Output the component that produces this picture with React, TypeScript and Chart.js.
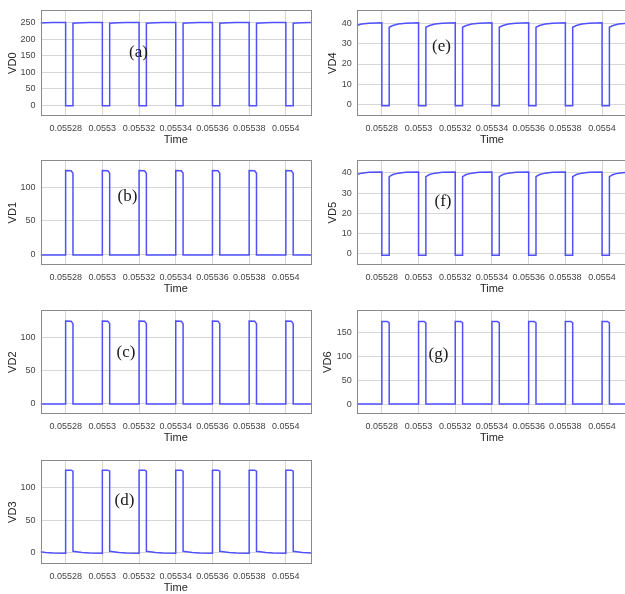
import { useEffect, useRef } from "react";
import { Chart, registerables } from "chart.js";
Chart.register(...registerables);

// Shared sample times (s)
const time = [
  0.0552663, 0.055269, 0.055273,
  0.05528, 0.05528, 0.055283, 0.055284, 0.055284, 0.055286, 0.055289, 0.055293,
  0.0553, 0.0553, 0.055303, 0.055304, 0.055304, 0.055306, 0.055309, 0.055313,
  0.05532, 0.05532, 0.055323, 0.055324, 0.055324, 0.055326, 0.055329, 0.055333,
  0.05534, 0.05534, 0.055343, 0.055344, 0.055344, 0.055346, 0.055349, 0.055353,
  0.05536, 0.05536, 0.055363, 0.055364, 0.055364, 0.055366, 0.055369, 0.055373,
  0.05538, 0.05538, 0.055383, 0.055384, 0.055384, 0.055386, 0.055389, 0.055393,
  0.0554, 0.0554, 0.055403, 0.055404, 0.055404, 0.055406, 0.055409, 0.0554137,
];

const vd0 = [
  250, 250.5, 251,
  251, -1, -1, -1, 249, 250, 250.5, 251,
  251, -1, -1, -1, 249, 250, 250.5, 251,
  251, -1, -1, -1, 249, 250, 250.5, 251,
  251, -1, -1, -1, 249, 250, 250.5, 251,
  251, -1, -1, -1, 249, 250, 250.5, 251,
  251, -1, -1, -1, 249, 250, 250.5, 251,
  251, -1, -1, -1, 249, 250, 250.5, 251,
];

const vd1 = [
  -0.5, -0.5, -0.5,
  -0.5, 125, 124.5, 121, -0.5, -0.5, -0.5, -0.5,
  -0.5, 125, 124.5, 121, -0.5, -0.5, -0.5, -0.5,
  -0.5, 125, 124.5, 121, -0.5, -0.5, -0.5, -0.5,
  -0.5, 125, 124.5, 121, -0.5, -0.5, -0.5, -0.5,
  -0.5, 125, 124.5, 121, -0.5, -0.5, -0.5, -0.5,
  -0.5, 125, 124.5, 121, -0.5, -0.5, -0.5, -0.5,
  -0.5, 125, 124.5, 121, -0.5, -0.5, -0.5, -0.5,
];

const vd2 = [
  -0.5, -0.5, -0.5,
  -0.5, 125, 124.5, 121, -0.5, -0.5, -0.5, -0.5,
  -0.5, 125, 124.5, 121, -0.5, -0.5, -0.5, -0.5,
  -0.5, 125, 124.5, 121, -0.5, -0.5, -0.5, -0.5,
  -0.5, 125, 124.5, 121, -0.5, -0.5, -0.5, -0.5,
  -0.5, 125, 124.5, 121, -0.5, -0.5, -0.5, -0.5,
  -0.5, 125, 124.5, 121, -0.5, -0.5, -0.5, -0.5,
  -0.5, 125, 124.5, 121, -0.5, -0.5, -0.5, -0.5,
];

const vd3 = [
  1.7, 0.5, -0.3,
  -0.5, 127, 127, 125.5, 2.5, 1.8, 0.5, -0.3,
  -0.5, 127, 127, 125.5, 2.5, 1.8, 0.5, -0.3,
  -0.5, 127, 127, 125.5, 2.5, 1.8, 0.5, -0.3,
  -0.5, 127, 127, 125.5, 2.5, 1.8, 0.5, -0.3,
  -0.5, 127, 127, 125.5, 2.5, 1.8, 0.5, -0.3,
  -0.5, 127, 127, 125.5, 2.5, 1.8, 0.5, -0.3,
  -0.5, 127, 127, 125.5, 2.5, 1.8, 0.5, -0.3,
];

const vd4 = [
  39.2, 39.9, 40.3,
  40.5, -0.8, -0.8, -0.8, 38.3, 39.2, 39.9, 40.3,
  40.5, -0.8, -0.8, -0.8, 38.3, 39.2, 39.9, 40.3,
  40.5, -0.8, -0.8, -0.8, 38.3, 39.2, 39.9, 40.3,
  40.5, -0.8, -0.8, -0.8, 38.3, 39.2, 39.9, 40.3,
  40.5, -0.8, -0.8, -0.8, 38.3, 39.2, 39.9, 40.3,
  40.5, -0.8, -0.8, -0.8, 38.3, 39.2, 39.9, 40.3,
  40.5, -0.8, -0.8, -0.8, 38.3, 39.2, 39.9, 40.3,
];

const vd5 = [
  39.2, 39.9, 40.3,
  40.5, -0.7, -0.7, -0.7, 38.2, 39.2, 39.9, 40.3,
  40.5, -0.7, -0.7, -0.7, 38.2, 39.2, 39.9, 40.3,
  40.5, -0.7, -0.7, -0.7, 38.2, 39.2, 39.9, 40.3,
  40.5, -0.7, -0.7, -0.7, 38.2, 39.2, 39.9, 40.3,
  40.5, -0.7, -0.7, -0.7, 38.2, 39.2, 39.9, 40.3,
  40.5, -0.7, -0.7, -0.7, 38.2, 39.2, 39.9, 40.3,
  40.5, -0.7, -0.7, -0.7, 38.2, 39.2, 39.9, 40.3,
];

const vd6 = [
  0, 0, 0,
  0, 172, 172, 169, 0, 0, 0, 0,
  0, 172, 172, 169, 0, 0, 0, 0,
  0, 172, 172, 169, 0, 0, 0, 0,
  0, 172, 172, 169, 0, 0, 0, 0,
  0, 172, 172, 169, 0, 0, 0, 0,
  0, 172, 172, 169, 0, 0, 0, 0,
  0, 172, 172, 169, 0, 0, 0, 0,
];

const xMin = 0.0552663;
const xMax = 0.0554137;
const xTickValues = [0.05528, 0.0553, 0.05532, 0.05534, 0.05536, 0.05538, 0.0554];
const xTickLabels = ["0.05528", "0.0553", "0.05532", "0.05534", "0.05536", "0.05538", "0.0554"];
const yTicks250 = [0, 50, 100, 150, 200, 250];
const yTicks100 = [0, 50, 100];
const yTicks150 = [0, 50, 100, 150];
const yTicks40 = [0, 10, 20, 30, 40];

type Panel = {
  name: string;
  values: number[];
  yMin: number;
  yMax: number;
  yTicks: number[];
  note: string;
  left: number;
  top: number;
  width: number;
  plotLeft: number;
  plotRight: number;
  plotTop: number;
  plotBottom: number;
  titlePad: number;
  noteX: number;
  noteY: number;
};

const panels: Panel[] = [
  { name: "VD0", values: vd0, yMin: -32, yMax: 288, yTicks: yTicks250, note: "(a)",
    left: 0, top: 0, width: 313, plotLeft: 40.5, plotRight: 311, plotTop: 6, plotBottom: 116, titlePad: 6.6, noteX: 138.5, noteY: 51 },
  { name: "VD1", values: vd1, yMin: -15.4, yMax: 140, yTicks: yTicks100, note: "(b)",
    left: 0, top: 150, width: 313, plotLeft: 40.5, plotRight: 311, plotTop: 7.3, plotBottom: 115, titlePad: 6.6, noteX: 127.5, noteY: 195 },
  { name: "VD2", values: vd2, yMin: -15.5, yMax: 141, yTicks: yTicks100, note: "(c)",
    left: 0, top: 300, width: 313, plotLeft: 40.5, plotRight: 311, plotTop: 6, plotBottom: 114, titlePad: 6.6, noteX: 126, noteY: 351 },
  { name: "VD3", values: vd3, yMin: -17, yMax: 142, yTicks: yTicks100, note: "(d)",
    left: 0, top: 450, width: 313, plotLeft: 40.5, plotRight: 311, plotTop: 5.7, plotBottom: 114, titlePad: 6.6, noteX: 124.5, noteY: 499 },
  { name: "VD4", values: vd4, yMin: -5.9, yMax: 46.7, yTicks: yTicks40, note: "(e)",
    left: 320, top: 0, width: 310, plotLeft: 36.7, plotRight: 307.2, plotTop: 6, plotBottom: 116, titlePad: 6.6, noteX: 441.5, noteY: 45 },
  { name: "VD5", values: vd5, yMin: -5.5, yMax: 46.2, yTicks: yTicks40, note: "(f)",
    left: 320, top: 150, width: 310, plotLeft: 36.7, plotRight: 307.2, plotTop: 6, plotBottom: 115, titlePad: 6.6, noteX: 443, noteY: 200 },
  { name: "VD6", values: vd6, yMin: -20.6, yMax: 195, yTicks: yTicks150, note: "(g)",
    left: 320, top: 300, width: 310, plotLeft: 36.7, plotRight: 307.2, plotTop: 6, plotBottom: 114, titlePad: 1.8, noteX: 438.5, noteY: 353 },
];

const FONT = "'Liberation Sans', Arial, Helvetica, sans-serif";

const framePlugin = {
  id: "frame",
  afterDraw(chart: any) {
    const { ctx, chartArea } = chart;
    ctx.save();
    ctx.strokeStyle = "#8a8a8a";
    ctx.lineWidth = 1;
    ctx.strokeRect(
      Math.round(chartArea.left) + 0.5,
      Math.round(chartArea.top) + 0.5,
      Math.round(chartArea.right - chartArea.left) - 1,
      Math.round(chartArea.bottom - chartArea.top) - 1
    );
    ctx.restore();
  },
};

function PanelChart({ p }: { p: Panel }) {
  const ref = useRef<HTMLCanvasElement>(null);
  const height = p.plotBottom + 34;
  useEffect(() => {
    if (!ref.current) return;
    const chart = new Chart(ref.current, {
      type: "line",
      data: {
        datasets: [
          {
            data: time.map((t, i) => ({ x: t, y: p.values[i] })),
            borderColor: "#5050ff",
            borderWidth: 1.5,
            pointRadius: 0,
            tension: 0,
            fill: false,
          },
        ],
      },
      options: {
        animation: false,
        responsive: false,
        devicePixelRatio: 1,
        plugins: { legend: { display: false }, tooltip: { enabled: false } },
        layout: {
          padding: { left: 0, top: p.plotTop, right: p.width - p.plotRight, bottom: 0 },
        },
        scales: {
          x: {
            type: "linear",
            min: xMin,
            max: xMax,
            afterBuildTicks: (s: any) => {
              s.ticks = xTickValues.map((v) => ({ value: v }));
            },
            afterFit: (s: any) => {
              s.height = 34;
            },
            ticks: {
              autoSkip: false,
              maxRotation: 0,
              minRotation: 0,
              padding: 7,
              color: "#444",
              font: { family: FONT, size: 9 },
              callback: (_v: any, i: number) => xTickLabels[i],
            },
            grid: { color: "#d6d6d6", drawTicks: false, lineWidth: 1 },
            border: { display: false },
            title: {
              display: true,
              text: "Time",
              color: "#262626",
              font: { family: FONT, size: 11 },
              padding: { top: 0, bottom: 3.4 },
            },
          },
          y: {
            type: "linear",
            min: p.yMin,
            max: p.yMax,
            afterBuildTicks: (s: any) => {
              s.ticks = p.yTicks.map((v) => ({ value: v }));
            },
            afterFit: (s: any) => {
              s.width = p.plotLeft;
            },
            ticks: {
              autoSkip: false,
              padding: 5,
              color: "#444",
              font: { family: FONT, size: 9 },
              callback: (v: any) => String(v),
            },
            grid: { color: "#d6d6d6", drawTicks: false, lineWidth: 1 },
            border: { display: false },
            title: {
              display: true,
              text: p.name,
              color: "#262626",
              font: { family: FONT, size: 11 },
              padding: { top: p.titlePad, bottom: 0 },
            },
          },
        },
      },
      plugins: [framePlugin],
    } as any);
    return () => chart.destroy();
  }, [p]);
  return (
    <canvas
      ref={ref}
      width={p.width}
      height={height}
      style={{ position: "absolute", left: p.left, top: p.top, width: p.width, height }}
    />
  );
}

export default function App() {
  return (
    <div
      style={{
        position: "absolute",
        left: 0,
        top: 0,
        width: 625,
        height: 594,
        overflow: "hidden",
        background: "#fff",
      }}
    >
      {panels.map((p) => (
        <PanelChart key={p.name} p={p} />
      ))}
      {panels.map((p) => (
        <div
          key={p.note}
          style={{
            position: "absolute",
            left: p.noteX,
            top: p.noteY,
            transform: "translate(-50%, -50%)",
            fontFamily: "'Liberation Serif', 'Times New Roman', serif",
            fontSize: 17,
            lineHeight: "17px",
            color: "#1a1a1a",
            whiteSpace: "nowrap",
          }}
        >
          {p.note}
        </div>
      ))}
    </div>
  );
}
